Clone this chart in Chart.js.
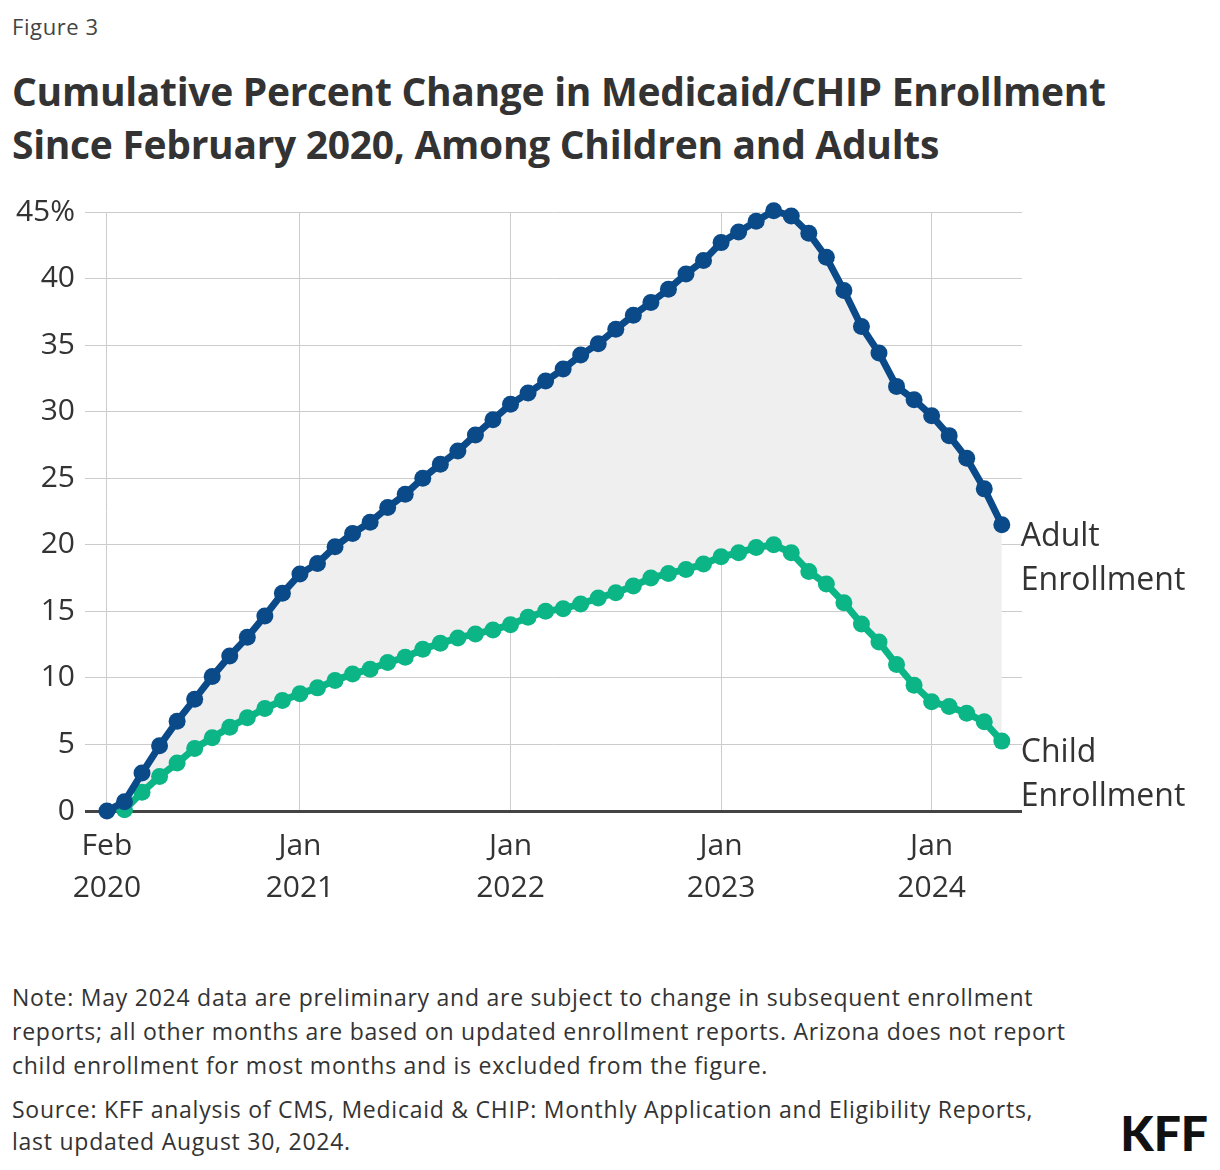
<!DOCTYPE html>
<html>
<head>
<meta charset="utf-8">
<script src="https://cdn.jsdelivr.net/npm/chart.js"></script>
<style>
  body { margin: 0; background: #fff; font-family: 'Open Sans', sans-serif; color: #333; }
  #page { position: relative; width: 1220px; height: 1170px; overflow: hidden; }
  .fig { position: absolute; left: 12px; top: 11px; font-size: 22px; color: #444; letter-spacing: 0.6px; }
  .title { position: absolute; left: 12px; top: 64px; font-size: 39px; font-weight: 700; line-height: 53px; color: #333; white-space: nowrap; letter-spacing: -0.3px; }
  #chartBox { position: absolute; left: 0; top: 180px; width: 1220px; height: 760px; }
  .note { position: absolute; left: 12px; top: 980px; font-size: 23px; line-height: 34px; white-space: nowrap; letter-spacing: 0.75px; }
  .source { position: absolute; left: 12px; top: 1093px; font-size: 23px; line-height: 32px; white-space: nowrap; letter-spacing: 0.75px; }
  .logo { position: absolute; right: 12px; top: 1104px; font-family: 'Lato', sans-serif; font-size: 48px; font-weight: 900; color: #111; }
</style>
</head>
<body>
<div id="page">
  <div class="fig">Figure 3</div>
  <div class="title">Cumulative Percent Change in Medicaid/CHIP Enrollment<br>Since February 2020, Among Children and Adults</div>
  <div id="chartBox"><canvas id="c"></canvas></div>
  <div class="note">Note: May 2024 data are preliminary and are subject to change in subsequent enrollment<br>reports; all other months are based on updated enrollment reports. Arizona does not report<br>child enrollment for most months and is excluded from the figure.</div>
  <div class="source">Source: KFF analysis of CMS, Medicaid &amp; CHIP: Monthly Application and Eligibility Reports,<br>last updated August 30, 2024.</div>
  <div class="logo">KFF</div>
</div>
<script>
"use strict";

// meses desde feb 2020 hasta may 2024
const months = [
  '2020-02','2020-03','2020-04','2020-05','2020-06','2020-07','2020-08','2020-09','2020-10','2020-11','2020-12',
  '2021-01','2021-02','2021-03','2021-04','2021-05','2021-06','2021-07','2021-08','2021-09','2021-10','2021-11','2021-12',
  '2022-01','2022-02','2022-03','2022-04','2022-05','2022-06','2022-07','2022-08','2022-09','2022-10','2022-11','2022-12',
  '2023-01','2023-02','2023-03','2023-04','2023-05','2023-06','2023-07','2023-08','2023-09','2023-10','2023-11','2023-12',
  '2024-01','2024-02','2024-03','2024-04','2024-05'
];

const adultEnrollment = [
  0, 0.7, 2.85, 4.9, 6.75, 8.4, 10.1, 11.65, 13.05, 14.65, 16.35,
  17.8, 18.6, 19.85, 20.85, 21.7, 22.8, 23.8, 25.0, 26.05, 27.05, 28.25, 29.4,
  30.55, 31.4, 32.3, 33.2, 34.25, 35.1, 36.2, 37.25, 38.2, 39.2, 40.35, 41.35,
  42.7, 43.5, 44.3, 45.1, 44.7, 43.4, 41.6, 39.1, 36.4, 34.4, 31.9, 30.9,
  29.7, 28.2, 26.5, 24.2, 21.5
];

const childEnrollment = [
  null, 0.1, 1.4, 2.6, 3.6, 4.7, 5.5, 6.3, 7.0, 7.7, 8.3,
  8.8, 9.25, 9.8, 10.3, 10.65, 11.15, 11.55, 12.15, 12.6, 13.0, 13.3, 13.6,
  14.0, 14.55, 15.0, 15.2, 15.55, 16.0, 16.4, 16.9, 17.5, 17.85, 18.15, 18.55,
  19.1, 19.4, 19.8, 20.0, 19.4, 18.0, 17.05, 15.65, 14.05, 12.7, 11.0, 9.45,
  8.2, 7.85, 7.35, 6.7, 5.25
];

const tickMonths = ['2020-02', '2021-01', '2022-01', '2023-01', '2024-01'];
const tickLabels = [['Feb', '2020'], ['Jan', '2021'], ['Jan', '2022'], ['Jan', '2023'], ['Jan', '2024']];
const yTicks = [0, 5, 10, 15, 20, 25, 30, 35, 40, 45];

const seriesNames = [['Adult', 'Enrollment'], ['Child', 'Enrollment']];

const COLOR_ADULT = '#0a4a89';
const COLOR_CHILD = '#0bb586';
const FONT = "'Open Sans', sans-serif";

function toPoints(values) {
    return values.map((v, i) => ({ x: i, y: v }));
}

// etiquetas al final de cada serie
const endLabels = {
    id: 'endLabels',
    afterDatasetsDraw(chart) {
        const ctx = chart.ctx;
        ctx.save();
        ctx.font = '32px ' + FONT;
        ctx.fillStyle = '#333';
        ctx.textAlign = 'left';
        ctx.textBaseline = 'middle';
        chart.data.datasets.forEach((ds, i) => {
            const meta = chart.getDatasetMeta(i);
            const last = meta.data[meta.data.length - 1];
            const lines = seriesNames[i];
            lines.forEach((t, j) => {
                ctx.fillText(t, last.x + 19, last.y + 12 + j * 44);
            });
        });
        ctx.restore();
    }
};

const ctx = document.getElementById('c').getContext('2d');

new Chart(ctx, {
    type: 'line',
    data: {
        datasets: [
            {
                label: 'Adult Enrollment',
                data: toPoints(adultEnrollment),
                borderColor: COLOR_ADULT,
                backgroundColor: COLOR_ADULT,
                pointBackgroundColor: COLOR_ADULT,
                borderWidth: 7,
                pointRadius: 8.5,
                pointBorderWidth: 0,
                fill: { target: 1, above: '#efefef', below: '#efefef' },
                clip: false,
                tension: 0
            },
            {
                label: 'Child Enrollment',
                data: toPoints(childEnrollment),
                borderColor: COLOR_CHILD,
                backgroundColor: COLOR_CHILD,
                pointBackgroundColor: COLOR_CHILD,
                borderWidth: 7,
                pointRadius: 8.5,
                pointBorderWidth: 0,
                fill: false,
                clip: false,
                tension: 0
            }
        ]
    },
    options: {
        responsive: true,
        maintainAspectRatio: false,
        animation: false,
        layout: { padding: { top: 32, right: 198, bottom: 0, left: 0 } },
        plugins: {
            legend: { display: false },
            tooltip: { enabled: false },
            filler: { drawTime: 'beforeDatasetsDraw' }
        },
        scales: {
            x: {
                type: 'linear',
                min: -1.25,
                max: 52.15,
                afterBuildTicks(scale) {
                    scale.ticks = tickMonths.map(m => ({ value: months.indexOf(m) }));
                },
                afterFit(scale) { scale.height = 129; },
                border: { display: false },
                grid: { color: '#cccccc', lineWidth: 1, drawTicks: false },
                ticks: {
                    autoSkip: false,
                    maxRotation: 0,
                    padding: 14,
                    color: '#333',
                    font: { family: FONT, size: 30, lineHeight: 1.4 },
                    callback: function(value) {
                        const idx = tickMonths.indexOf(months[value]);
                        return idx >= 0 ? tickLabels[idx] : '';
                    }
                }
            },
            y: {
                min: 0,
                max: 45,
                afterBuildTicks(scale) {
                    scale.ticks = yTicks.map(v => ({ value: v }));
                },
                afterFit(scale) { scale.width = 85; },
                border: { display: false },
                grid: {
                    drawTicks: false,
                    color: c => c.tick.value === 0 ? '#444444' : '#cccccc',
                    lineWidth: c => c.tick.value === 0 ? 3 : 1
                },
                ticks: {
                    padding: 10,
                    color: '#333',
                    font: { family: FONT, size: 30 },
                    callback: v => v === 45 ? '45%' : v
                }
            }
        }
    },
    plugins: [endLabels]
});
</script>
</body>
</html>
